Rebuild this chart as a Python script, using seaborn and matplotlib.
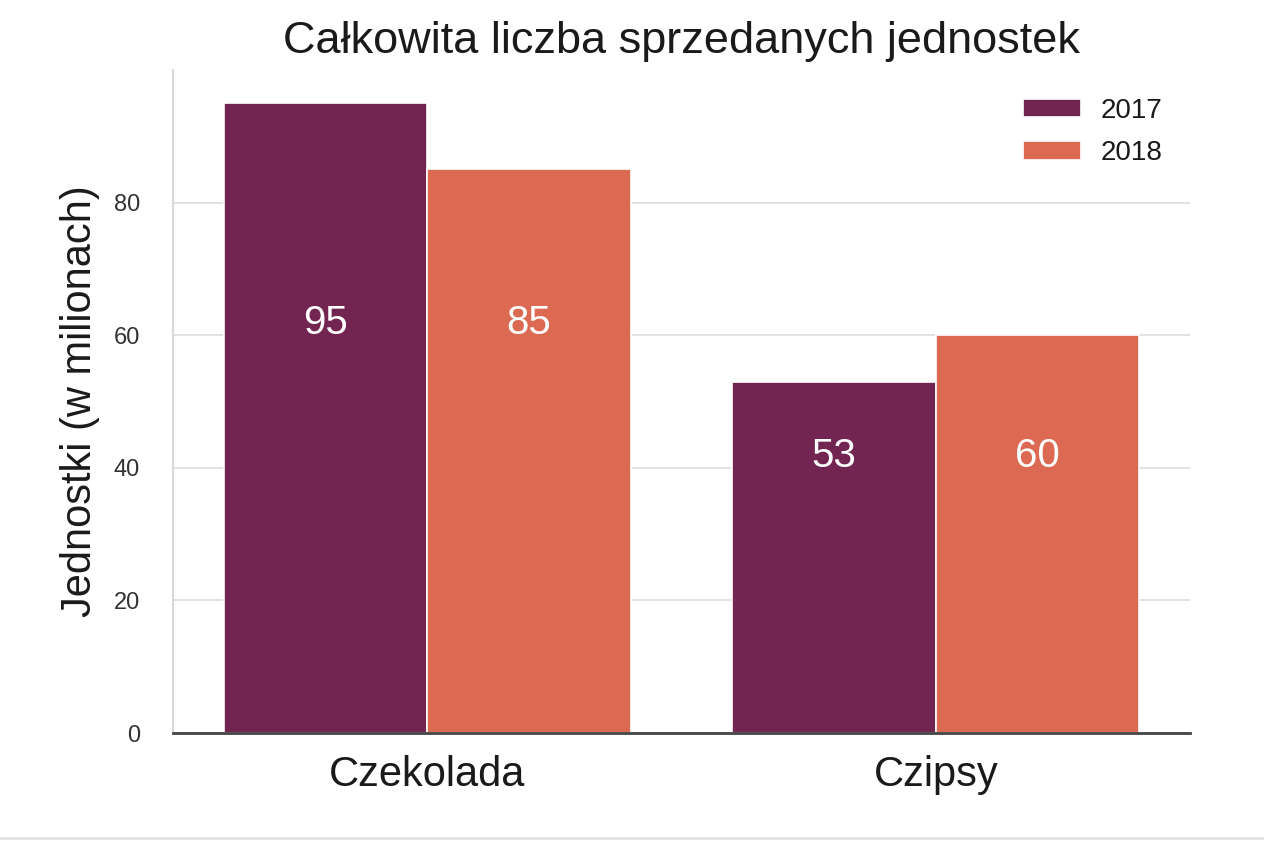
import matplotlib
matplotlib.use("Agg")
import matplotlib.pyplot as plt
import seaborn as sns
import pandas as pd
from matplotlib.lines import Line2D

products = ["Czekolada", "Czekolada", "Czipsy", "Czipsy"]
years = ["2017", "2018", "2017", "2018"]
units = [95, 85, 53, 60]

df = pd.DataFrame({"Produkt": products, "Rok": years, "Jednostki": units})
product_order = ["Czekolada", "Czipsy"]
year_order = ["2017", "2018"]

sns.set_theme(style="whitegrid")
plt.rcParams["font.family"] = ["Liberation Sans", "DejaVu Sans"]
plt.rcParams["text.color"] = "#1a1a1a"
plt.rcParams["axes.labelcolor"] = "#1a1a1a"

fig = plt.figure(figsize=(12.64, 8.41), dpi=100)
ax = fig.add_axes([0.137, 0.1284, 0.8045, 0.7884])

sns.barplot(data=df, x="Produkt", y="Jednostki", hue="Rok",
            order=product_order, hue_order=year_order,
            palette=["#722551", "#DC6A53"], edgecolor="white", linewidth=1.2,
            saturation=1, ax=ax)

# labels sit at a fixed height inside each group, like in the original
label_levels = {"Czekolada": 61.8, "Czipsy": 41.8}
for year, container in zip(year_order, ax.containers):
    for prod, bar in zip(product_order, container):
        val = df[(df["Rok"] == year) & (df["Produkt"] == prod)]["Jednostki"].iloc[0]
        ax.text(bar.get_x() + bar.get_width() / 2, label_levels[prod],
                str(val), ha="center", va="center",
                color="white", fontsize=29)

ax.set_ylim(0, 100)
ax.set_xlim(-0.5, 1.5)
ax.set_yticks([0, 20, 40, 60, 80])
ax.set_title("Całkowita liczba sprzedanych jednostek", fontsize=32.5, pad=12)
ax.set_ylabel("Jednostki (w milionach)", fontsize=30, labelpad=10)
ax.set_xlabel("")
ax.tick_params(axis="x", labelsize=30, pad=10, labelcolor="#1a1a1a")
ax.tick_params(axis="y", labelsize=17, labelcolor="#333333", pad=18)
ax.grid(axis="x", visible=False)
ax.grid(axis="y", color="#dddddd", linewidth=1.2)

for side in ["top", "right"]:
    ax.spines[side].set_visible(False)
ax.spines["left"].set_color("#d9d9d9")
ax.spines["left"].set_linewidth(1.5)
ax.spines["bottom"].set_color("#444444")
ax.spines["bottom"].set_linewidth(2)

ax.legend(frameon=False, fontsize=20, loc="upper right", labelspacing=0.6,
          handlelength=2.1, handleheight=0.65, borderaxespad=0.6,
          handletextpad=0.7)

fig.add_artist(Line2D([0, 1], [0.003, 0.003], transform=fig.transFigure,
                      color="#e3e3e3", linewidth=2))

fig.savefig("out.png", dpi=100)
